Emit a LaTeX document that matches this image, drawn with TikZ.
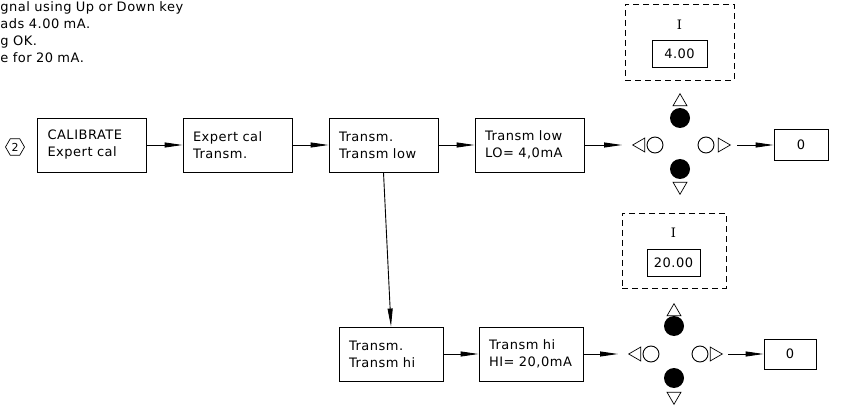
\documentclass[tikz,border=0pt]{standalone}
\usepackage{fontspec}
\setmainfont{DejaVu Sans}[LetterSpace=4, WordSpace=2.2]
\newfontfamily\serifI{DejaVu Serif}
\usetikzlibrary{arrows.meta, shapes.geometric}

\begin{document}
\begin{tikzpicture}[x=1pt, y=-1pt, line width=0.9pt,
    >={Triangle[length=18pt, width=5pt]},
    font=\fontsize{13}{17}\selectfont,
    menubox/.style={draw, rectangle, minimum height=54pt, inner xsep=10pt, text width=89pt, align=left},
    dashbox/.style={draw, dash pattern=on 6pt off 4pt, minimum width=109pt, minimum height=76pt},
    readout/.style={draw, minimum width=55pt, minimum height=27pt, inner sep=0pt},
    outbox/.style={draw, minimum width=54pt, minimum height=31pt, inner sep=0pt},
    keyring/.style={circle, draw, minimum size=16pt, inner sep=0pt},
    keydot/.style={circle, fill, minimum size=20pt, inner sep=0pt},
    keytri/.style={isosceles triangle, isosceles triangle apex angle=60, draw,
        minimum height=12pt, minimum width=12pt, inner sep=0pt, line width=0.7pt, shape border rotate=#1}]
  \useasboundingbox (0,0) rectangle (847,409);

  % instructions (cut at the left edge)
  \node[anchor=base west, align=left, inner sep=0pt, text width=240pt] (note) at (0,12)
       {gnal using Up or Down key\\ads 4.00 mA.\\g OK.\\e for 20 mA.};

  % step number
  \node[regular polygon, regular polygon sides=6, draw, line width=0.7pt, minimum size=19pt,
        inner sep=0pt, font=\fontsize{11}{11}\selectfont] (stepno) at (15,147) {2};

  % menu, first row
  \node[menubox] (cal)    at (92,145)    {CALIBRATE\\Expert cal};
  \node[menubox] (expert) at (237.5,145) {Expert cal\\Transm.};
  \node[menubox] (trlow)  at (383.5,145) {Transm.\\Transm low};
  \node[menubox] (lo)     at (529.5,145) {Transm low\\LO= 4,0mA};

  % menu, second row
  \node[menubox, text width=84pt] (trhi) at (391,354) {Transm.\\Transm hi};
  \node[menubox, text width=84pt] (hi)   at (531,354) {Transm hi\\HI= 20,0mA};

  % display, 4 mA
  \node[dashbox] (disp1) at (679.5,42) {};
  \node[font={\fontsize{13}{14}\serifI}] (cur1) at (679.5,25) {I};
  \node[readout] (val1) at (679.5,53.5) {4.00};

  % keys, 4 mA
  \node[keyring] (left1)  at (655,145) {};
  \node[keyring] (right1) at (706,145) {};
  \node[keydot]  (up1)    at (680,118) {};
  \node[keydot]  (down1)  at (680,169) {};
  \node[keytri=180, anchor=apex] (lt1) at (632,145) {};
  \node[keytri=0,   anchor=apex] (rt1) at (731,145) {};
  \node[keytri=90,  anchor=apex] (ut1) at (680,93)  {};
  \node[keytri=270, anchor=apex] (dt1) at (680,195) {};
  \node[outbox] (out1) at (801,145) {0};

  % display, 20 mA
  \node[dashbox, minimum width=104pt, minimum height=75pt] (disp2) at (674,250.5) {};
  \node[font={\fontsize{13}{14}\serifI}] (cur2) at (673.5,233) {I};
  \node[readout, minimum width=53pt] (val2) at (673.5,262.5) {20.00};

  % keys, 20 mA
  \node[keyring] (left2)  at (651,354) {};
  \node[keyring] (right2) at (700,354) {};
  \node[keydot]  (up2)    at (674,326) {};
  \node[keydot]  (down2)  at (674,378) {};
  \node[keytri=180, anchor=apex] (lt2) at (628,354) {};
  \node[keytri=0,   anchor=apex] (rt2) at (723,354) {};
  \node[keytri=90,  anchor=apex] (ut2) at (674,303) {};
  \node[keytri=270, anchor=apex] (dt2) at (674,405) {};
  \node[outbox, minimum width=52pt, minimum height=30pt] (out2) at (790,354) {0};

  % connectors
  \draw[->] (cal) -- (expert);
  \draw[->] (expert) -- (trlow);
  \draw[->] (trlow) -- (lo);
  \draw[->, shorten >=10pt] (lo) -- (lt1);
  \draw[->, shorten <=6pt] (rt1) -- (out1);
  \draw[->] (trlow.south) -- (trhi.north);
  \draw[->] (trhi) -- (hi);
  \draw[->, shorten >=10pt] (hi) -- (lt2);
  \draw[->, shorten <=5pt] (rt2) -- (out2);
\end{tikzpicture}
\end{document}
